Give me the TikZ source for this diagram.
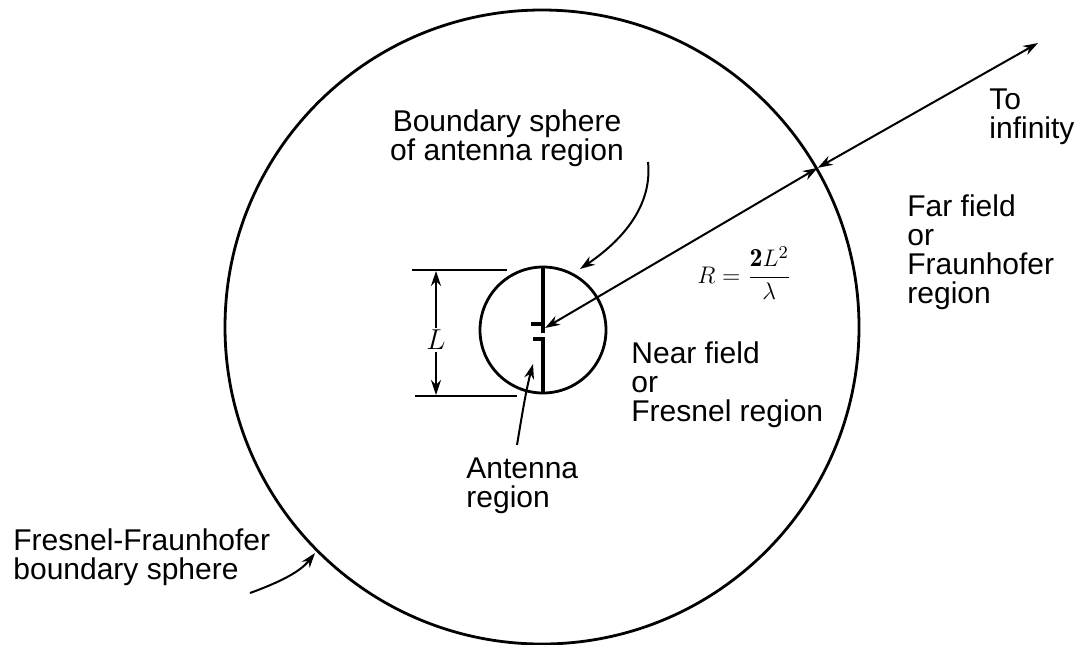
\documentclass[tikz,border=0pt]{standalone}
\usepackage{amsmath}
\usepackage{fontspec}
\setsansfont{Liberation Sans}
\usetikzlibrary{arrows.meta,positioning}

\begin{document}
\begin{tikzpicture}[
    x=0.5pt, y=-0.5pt,
    >={Stealth[length=7.5pt,width=5pt]},
    mylabel/.style={align=left, inner sep=0pt, font=\sffamily\fontsize{15}{14.5}\selectfont},
    myarrow/.style={->, line width=1pt},
    mysphere/.style={draw, circle, line width=1.4pt, inner sep=0pt},
    antline/.style={line width=1.8pt}
]
\useasboundingbox (0,0) rectangle (1090,644);

% the two spheres
\node[mysphere, minimum size=317pt] (far) at (542,327) {};
\node[mysphere, minimum size=63pt] (near) at (543,330) {};

% antenna
\coordinate (feed) at (545,328);
\draw[antline] (near.north) -- (543,333);
\draw[antline] (531,324) -- (543,324);
\draw[antline] (533,339) -- (543,339) -- (near.south);

% size L
\draw[line width=1.2pt] (412,270) -- (507,270);
\draw[line width=1.2pt] (415,396) -- (517,396);
\node[font=\fontsize{15}{15}\selectfont, fill=white, inner sep=1pt] (lsize) at (436,340) {$L$};
\draw[myarrow] (lsize) -- (436,271);
\draw[myarrow] (lsize) -- (436,395);

% radius line
\coordinate (inf) at (1038,43);
\draw[<->, line width=1pt] (feed) -- (far.30);
\draw[<->, line width=1pt] (far.30) -- (inf);
\node[anchor=west, inner sep=0pt, font=\fontsize{13}{15}\selectfont] (rlabel) at (697,273) {$R=\dfrac{\mathbf{2}L^2}{\lambda}$};

% labels
\node[mylabel, align=center] (bsph) at (507,138) {Boundary sphere\\of antenna region};
\node[mylabel, anchor=west] (nearlbl) at (631,385) {Near field\\or\\Fresnel region};
\node[mylabel, anchor=west] (farlbl) at (907,252) {Far field\\or\\Fraunhofer\\region};
\node[mylabel, anchor=west] (inflbl) at (989,117) {To\\infinity};
\node[mylabel, anchor=west] (antlbl) at (466,486) {Antenna\\region};
\node[mylabel, anchor=west] (fflbl) at (13,557) {Fresnel-Fraunhofer\\boundary sphere};

% pointers
\coordinate (bsphstart) at (648,162);
\coordinate (bsphtip) at (580,269);
\coordinate (antstart) at (517,445);
\coordinate (anttip) at (533,364);
\coordinate (ffstart) at (250,593);
\coordinate (fftip) at (315,553);
\draw[myarrow] (bsphstart) .. controls (652,200) and (630,235) .. (bsphtip);
\draw[myarrow] (antstart) .. controls (522,415) and (526,390) .. (anttip);
\draw[myarrow] (ffstart) .. controls (280,582) and (300,572) .. (fftip);
\end{tikzpicture}
\end{document}
